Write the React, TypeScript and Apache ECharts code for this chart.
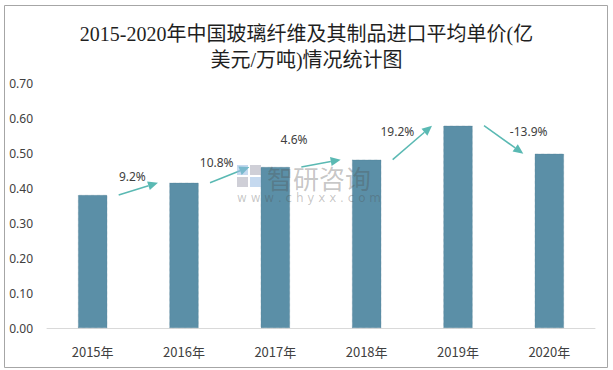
import React, { useEffect, useRef } from "react";
import * as echarts from "echarts";

const categories = ["2015年", "2016年", "2017年", "2018年", "2019年", "2020年"];
const prices = [0.38, 0.415, 0.46, 0.481, 0.578, 0.498];
const growthLabels = ["9.2%", "10.8%", "4.6%", "19.2%", "-13.9%"];
const yTicks = { min: 0, max: 0.7, interval: 0.1 };

// style: label offsets from each arrow's midpoint (px)
const labelOffsets = [[-6, -12], [-13, -12], [-27, -24], [-15, -11], [25, -8]];

const TITLE = "2015-2020年中国玻璃纤维及其制品进口平均单价(亿\n美元/万吨)情况统计图";

export default function App() {
  const ref = useRef<HTMLDivElement>(null);
  useEffect(() => {
    if (!ref.current) return;
    const chart = echarts.init(ref.current, null, { renderer: "svg" });
    const arrowColor = "#5ab9b3";
    const wmColor = "rgba(80,80,80,0.32)";
    const WZ = 100;
    chart.setOption({
      animation: false,
      backgroundColor: "#ffffff",
      title: {
        text: TITLE,
        left: "center",
        top: 16,
        textStyle: {
          fontFamily: "'Liberation Serif', 'Noto Sans CJK SC', serif",
          fontSize: 20,
          fontWeight: "normal",
          lineHeight: 26,
          color: "#1f1f1f",
          align: "center",
        },
      },
      grid: { left: 47, right: 18, top: 83, bottom: 42 },
      xAxis: {
        type: "category",
        data: categories,
        axisLine: { lineStyle: { color: "#d9d9d9", width: 1 } },
        axisTick: { show: false },
        axisLabel: {
          color: "#404040",
          fontSize: 13,
          margin: 17,
          fontFamily: "'Noto Sans CJK SC', sans-serif",
        },
      },
      yAxis: {
        type: "value",
        min: yTicks.min,
        max: yTicks.max,
        interval: yTicks.interval,
        splitLine: { show: false },
        axisLine: { show: false },
        axisTick: { show: false },
        axisLabel: {
          color: "#404040",
          fontSize: 12,
          margin: 14,
          fontFamily: "'Noto Sans', sans-serif",
          formatter: (v: number) => v.toFixed(2),
        },
      },
      graphic: [
        {
          type: "rect",
          shape: { x: 4.5, y: 5.5, width: 603, height: 362 },
          style: { fill: "none", stroke: "#a6a6a6", lineWidth: 1 },
          silent: true,
          z: 0,
        },
        { type: "rect", z: WZ, silent: true, shape: { x: 237, y: 165, width: 11, height: 10 }, style: { fill: "rgba(150,185,225,0.55)" } },
        { type: "rect", z: WZ, silent: true, shape: { x: 250, y: 165, width: 11, height: 10 }, style: { fill: "rgba(160,160,175,0.5)" } },
        { type: "rect", z: WZ, silent: true, shape: { x: 237, y: 177, width: 11, height: 10 }, style: { fill: "rgba(160,160,175,0.5)" } },
        { type: "rect", z: WZ, silent: true, shape: { x: 250, y: 177, width: 11, height: 10 }, style: { fill: "rgba(150,185,225,0.55)" } },
        {
          type: "text",
          z: WZ,
          silent: true,
          x: 267,
          y: 177,
          style: {
            text: "智研咨询",
            font: "26px 'Noto Sans CJK SC'",
            fill: wmColor,
            verticalAlign: "middle",
          },
        },
        {
          type: "text",
          z: WZ,
          silent: true,
          x: 237,
          y: 198,
          style: {
            text: "w w w . c h y x x . c o m",
            font: "12px 'DejaVu Sans'",
            fill: wmColor,
            verticalAlign: "middle",
          },
        },
      ],
      series: [
        {
          type: "bar",
          data: prices,
          barWidth: "32%",
          itemStyle: {
            color: "#5b8fa7",
            borderColor: "#4b7a90",
            borderWidth: 0.6,
            borderType: "dotted",
          },
          z: 2,
        },
        {
          type: "custom",
          clip: false,
          z: 5,
          data: growthLabels.map((_, i) => [i, prices[i], prices[i + 1]]),
          renderItem: (params: any, api: any) => {
            const i = api.value(0);
            const p1 = api.coord([i, api.value(1)]);
            const p2 = api.coord([i + 1, api.value(2)]);
            const x1 = p1[0] + 26;
            const y1 = p1[1];
            const x2 = p2[0] - 26;
            const y2 = p2[1];
            const ang = Math.atan2(y2 - y1, x2 - x1);
            const headLen = 10;
            const headW = 4.5;
            const bx = x2 - headLen * Math.cos(ang);
            const by = y2 - headLen * Math.sin(ang);
            const nx = -Math.sin(ang);
            const ny = Math.cos(ang);
            const off = labelOffsets[params.dataIndex] || [0, -12];
            const mx = (x1 + x2) / 2 + off[0];
            const my = (y1 + y2) / 2 + off[1];
            return {
              type: "group",
              children: [
                {
                  type: "line",
                  shape: { x1, y1, x2: bx, y2: by },
                  style: { stroke: arrowColor, lineWidth: 1.5 },
                },
                {
                  type: "polygon",
                  shape: {
                    points: [
                      [x2, y2],
                      [bx + nx * headW, by + ny * headW],
                      [bx - nx * headW, by - ny * headW],
                    ],
                  },
                  style: { fill: arrowColor },
                },
                {
                  type: "text",
                  x: mx,
                  y: my,
                  style: {
                    text: growthLabels[params.dataIndex],
                    fill: "#404040",
                    font: "12px 'Noto Sans', sans-serif",
                    align: "center",
                    verticalAlign: "middle",
                  },
                },
              ],
            };
          },
        },
      ],
    });
    return () => chart.dispose();
  }, []);
  return (
    <div
      ref={ref}
      style={{ position: "fixed", left: 0, top: 0, width: 613, height: 370 }}
    />
  );
}
